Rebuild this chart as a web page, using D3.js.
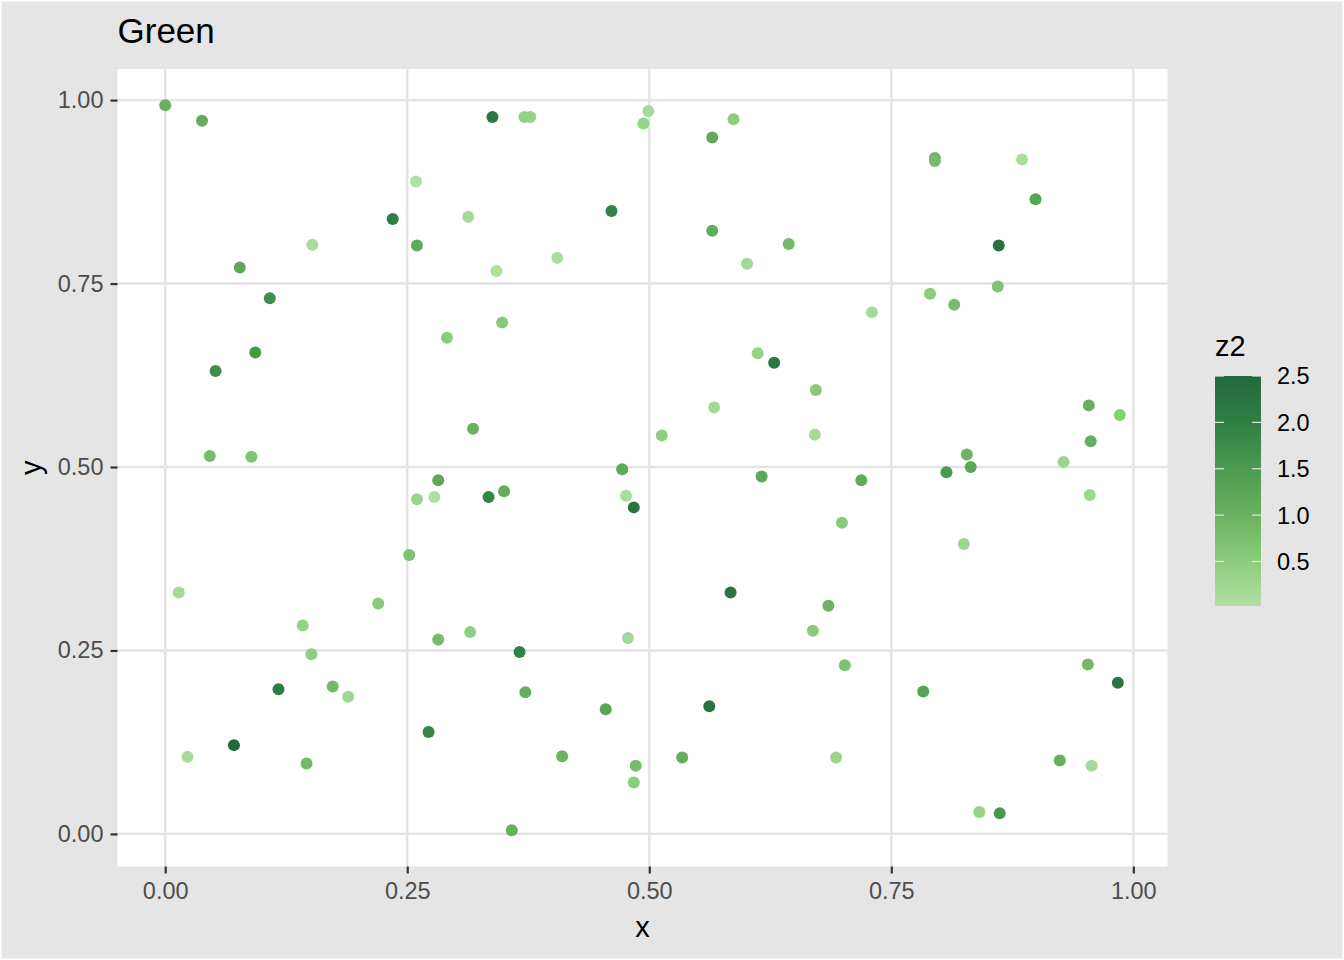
<!DOCTYPE html>
<html>
<head>
<meta charset="utf-8">
<script src="https://cdn.jsdelivr.net/npm/d3@7"></script>
<style>
  html, body { margin: 0; padding: 0; background: #ffffff; }
  svg { display: block; }
</style>
</head>
<body>
<div id="chart"></div>
<script>
// values
const xVals = [
    0.000, 0.038, 0.338, 0.371, 0.377, 0.499, 0.494, 0.259, 0.235, 0.313,
    0.461, 0.152, 0.260, 0.077, 0.342, 0.405, 0.108, 0.348, 0.291, 0.093,
    0.052, 0.318, 0.046, 0.089, 0.472,
    0.587, 0.565, 0.795, 0.795, 0.885, 0.899, 0.565, 0.644, 0.601, 0.861,
    0.860, 0.790, 0.815, 0.730, 0.612, 0.629, 0.672, 0.567, 0.513, 0.671,
    0.954, 0.986, 0.956, 0.828, 0.832, 0.807, 0.928,
    0.282, 0.260, 0.278, 0.334, 0.350, 0.476, 0.484, 0.252, 0.014, 0.220,
    0.142, 0.151, 0.282, 0.315, 0.366, 0.478, 0.117, 0.173, 0.189, 0.372,
    0.455, 0.272, 0.071, 0.023, 0.146, 0.410, 0.486, 0.484, 0.358,
    0.616, 0.719, 0.955, 0.699, 0.825, 0.584, 0.685, 0.669, 0.702, 0.562,
    0.783, 0.953, 0.984, 0.534, 0.693, 0.924, 0.957, 0.841, 0.862
];
const yVals = [
    0.993, 0.972, 0.977, 0.977, 0.977, 0.985, 0.968, 0.889, 0.838, 0.841,
    0.849, 0.803, 0.802, 0.772, 0.767, 0.785, 0.730, 0.697, 0.676, 0.656,
    0.631, 0.552, 0.515, 0.514, 0.497,
    0.974, 0.949, 0.921, 0.917, 0.919, 0.865, 0.822, 0.804, 0.777, 0.802,
    0.746, 0.736, 0.721, 0.711, 0.655, 0.642, 0.605, 0.581, 0.543, 0.544,
    0.584, 0.571, 0.535, 0.517, 0.500, 0.493, 0.507,
    0.482, 0.456, 0.459, 0.459, 0.467, 0.461, 0.445, 0.380, 0.329, 0.314,
    0.284, 0.245, 0.265, 0.275, 0.248, 0.267, 0.197, 0.201, 0.187, 0.193,
    0.170, 0.139, 0.121, 0.105, 0.096, 0.106, 0.093, 0.070, 0.005,
    0.487, 0.482, 0.462, 0.424, 0.395, 0.329, 0.311, 0.277, 0.230, 0.174,
    0.194, 0.231, 0.206, 0.104, 0.104, 0.100, 0.093, 0.030, 0.028
];
const z2Vals = [
    1.00, 1.10, 2.20, 0.40, 0.40, 0.15, 0.35, 0.02, 2.00, 0.15,
    1.95, 0.10, 1.15, 1.20, 0.05, 0.10, 1.70, 0.55, 0.50, 1.55,
    1.75, 1.00, 0.80, 0.65, 1.20,
    0.50, 1.15, 0.90, 0.80, 0.10, 1.30, 1.10, 0.85, 0.20, 2.30,
    0.65, 0.50, 0.80, 0.15, 0.40, 2.20, 0.55, 0.20, 0.45, 0.15,
    1.05, 0.50, 1.05, 0.95, 1.25, 1.50, 0.30,
    1.20, 0.30, 0.05, 1.90, 1.10, 0.10, 2.25, 0.70, 0.15, 0.55,
    0.40, 0.45, 0.80, 0.45, 1.95, 0.20, 2.05, 0.85, 0.25, 1.05,
    1.30, 1.90, 2.50, 0.15, 0.85, 0.95, 0.80, 0.50, 1.05,
    1.20, 1.15, 0.25, 0.55, 0.25, 2.25, 0.95, 0.55, 0.70, 2.25,
    1.30, 0.85, 2.20, 1.05, 0.30, 1.05, 0.15, 0.35, 1.55
];

const xTicks = [0, 0.25, 0.5, 0.75, 1];
const yTicks = [0, 0.25, 0.5, 0.75, 1];
const legendTicks = [0.5, 1.0, 1.5, 2.0, 2.5];

const greenStops = [0, 0.5, 1.0, 1.5, 2.0, 2.5];
const greenColors = ["#b3e0a6", "#8bcd7d", "#69b15f", "#4c9a50", "#2f7f45", "#24693d"];

const width = 1344, height = 960;
const panel = {left: 117.5, top: 69, right: 1167.5, bottom: 866.5};
const fontFamily = "'Liberation Sans', Arial, Helvetica, sans-serif";

const points = xVals.map((x, i) => ({x: x, y: yVals[i], z: z2Vals[i]}));

const svg = d3.select("#chart").append("svg")
    .attr("width", width)
    .attr("height", height);

// plot background (grey with white edge)
svg.append("rect")
    .attr("x", 0).attr("y", 0)
    .attr("width", width).attr("height", height)
    .attr("fill", "#ffffff");
svg.append("rect")
    .attr("x", 1.5).attr("y", 1.5)
    .attr("width", width - 3).attr("height", height - 3)
    .attr("fill", "#e5e5e5");

// scales with ggplot style 5% expansion
function expand(ext) {
    let pad = (ext[1] - ext[0]) * 0.05;
    return [ext[0] - pad, ext[1] + pad];
}
const x = d3.scaleLinear()
    .domain(expand(d3.extent(xVals)))
    .range([panel.left, panel.right]);
const y = d3.scaleLinear()
    .domain(expand(d3.extent(yVals)))
    .range([panel.bottom, panel.top]);
const color = d3.scaleLinear()
    .domain(greenStops)
    .range(greenColors)
    .interpolate(d3.interpolateRgb)
    .clamp(true);

// panel
svg.append("rect")
    .attr("x", panel.left).attr("y", panel.top)
    .attr("width", panel.right - panel.left)
    .attr("height", panel.bottom - panel.top)
    .attr("fill", "#ffffff");

const grid = svg.append("g");
grid.selectAll(".gx").data(xTicks).enter().append("line")
    .attr("x1", d => x(d)).attr("x2", d => x(d))
    .attr("y1", panel.top).attr("y2", panel.bottom)
    .attr("stroke", "#e3e3e3").attr("stroke-width", 2.4);
grid.selectAll(".gy").data(yTicks).enter().append("line")
    .attr("y1", d => y(d)).attr("y2", d => y(d))
    .attr("x1", panel.left).attr("x2", panel.right)
    .attr("stroke", "#e3e3e3").attr("stroke-width", 2.4);

// points
svg.append("g").selectAll("circle")
    .data(points)
    .enter()
    .append("circle")
    .attr("cx", d => x(d.x))
    .attr("cy", d => y(d.y))
    .attr("r", 6)
    .attr("fill", d => color(d.z));

// axes
const fmt = d3.format(".2f");
const xAxis = svg.append("g")
    .attr("transform", `translate(0, ${panel.bottom})`)
    .call(d3.axisBottom(x).tickValues(xTicks).tickFormat(fmt).tickSize(7).tickPadding(9));
const yAxis = svg.append("g")
    .attr("transform", `translate(${panel.left}, 0)`)
    .call(d3.axisLeft(y).tickValues(yTicks).tickFormat(fmt).tickSize(7).tickPadding(7));

[xAxis, yAxis].forEach(ax => {
    ax.select(".domain").remove();
    ax.selectAll(".tick line").attr("stroke", "#333333").attr("stroke-width", 2.2);
    ax.selectAll(".tick text")
        .attr("fill", "#4d4d4d")
        .style("font-family", fontFamily)
        .style("font-size", "23.5px");
});

// titles
svg.append("text")
    .attr("x", panel.left).attr("y", 43)
    .style("font-family", fontFamily).style("font-size", "35px")
    .attr("fill", "#000000")
    .text("Green");

svg.append("text")
    .attr("x", (panel.left + panel.right) / 2).attr("y", 937)
    .attr("text-anchor", "middle")
    .style("font-family", fontFamily).style("font-size", "29px")
    .attr("fill", "#000000")
    .text("x");

svg.append("text")
    .attr("transform", `translate(41, ${(panel.top + panel.bottom) / 2}) rotate(-90)`)
    .attr("text-anchor", "middle")
    .style("font-family", fontFamily).style("font-size", "29px")
    .attr("fill", "#000000")
    .text("y");

// legend colourbar
const bar = {x: 1215, y: 376, w: 46, h: 230};
const zExt = d3.extent(z2Vals);
const zScale = d3.scaleLinear().domain(zExt).range([bar.y + bar.h, bar.y]);

const defs = svg.append("defs");
const grad = defs.append("linearGradient")
    .attr("id", "z2grad")
    .attr("x1", 0).attr("y1", 1).attr("x2", 0).attr("y2", 0);
grad.selectAll("stop")
    .data(d3.range(0, 1.0001, 0.05))
    .enter().append("stop")
    .attr("offset", d => d)
    .attr("stop-color", d => color(zExt[0] + d * (zExt[1] - zExt[0])));

svg.append("text")
    .attr("x", bar.x).attr("y", 356)
    .style("font-family", fontFamily).style("font-size", "29px")
    .attr("fill", "#000000")
    .text("z2");

svg.append("rect")
    .attr("x", bar.x).attr("y", bar.y)
    .attr("width", bar.w).attr("height", bar.h)
    .attr("fill", "url(#z2grad)");

const lt = svg.append("g").selectAll("g")
    .data(legendTicks)
    .enter().append("g");
lt.append("line")
    .attr("x1", bar.x).attr("x2", bar.x + 9)
    .attr("y1", d => zScale(d)).attr("y2", d => zScale(d))
    .attr("stroke", "#e5e5e5").attr("stroke-width", 1.2);
lt.append("line")
    .attr("x1", bar.x + bar.w - 9).attr("x2", bar.x + bar.w)
    .attr("y1", d => zScale(d)).attr("y2", d => zScale(d))
    .attr("stroke", "#e5e5e5").attr("stroke-width", 1.2);
lt.append("text")
    .attr("x", bar.x + bar.w + 16)
    .attr("y", d => zScale(d))
    .attr("dy", "0.36em")
    .style("font-family", fontFamily).style("font-size", "23.5px")
    .attr("fill", "#000000")
    .text(d => d3.format(".1f")(d));
</script>
</body>
</html>
